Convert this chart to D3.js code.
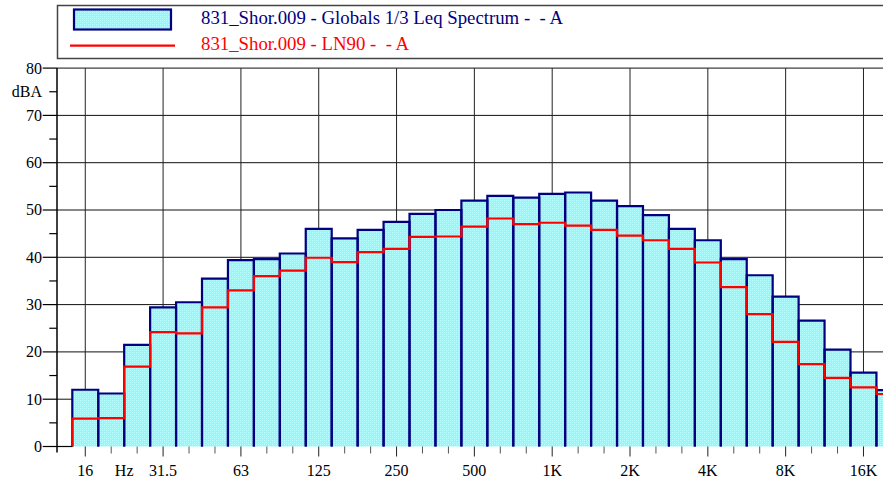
<!DOCTYPE html>
<html>
<head>
<meta charset="utf-8">
<script src="https://cdn.jsdelivr.net/npm/d3@7"></script>
<style>
  html, body { margin: 0; padding: 0; background: #fff; }
  svg { display: block; }
</style>
</head>
<body>
<svg id="chart" width="883" height="483"></svg>
<script>
// ---- data ----
const bands = ["16","20","25","31.5","40","50","63","80","100","125","160","200","250","315","400","500","630","800","1K","1.25K","1.6K","2K","2.5K","3.15K","4K","5K","6.3K","8K","10K","12.5K","16K","20K"];
const leqValues = [12.0,11.2,21.5,29.4,30.5,35.5,39.4,39.6,40.8,46.0,44.0,45.8,47.5,49.2,50.0,52.0,53.0,52.6,53.4,53.7,52.0,50.8,48.9,46.0,43.6,39.6,36.2,31.7,26.6,20.5,15.6,11.9];
const ln90Values = [5.9,6.0,16.9,24.2,23.9,29.4,33.0,36.0,37.2,39.9,39.0,41.1,41.8,44.3,44.4,46.5,48.2,47.0,47.3,46.7,45.8,44.6,43.6,41.8,38.9,33.7,28.0,22.1,17.4,14.5,12.5,11.1];
const xTickBands = ["16","31.5","63","125","250","500","1K","2K","4K","8K","16K"];
const yTicks = [0,10,20,30,40,50,60,70,80];
const yMinorTicks = [5,15,25,35,45,55,65,75];
const yUnit = "dBA";
const xUnit = "Hz";
const legendLabels = ["831_Shor.009 - Globals 1/3 Leq Spectrum -  - A", "831_Shor.009 - LN90 -  - A"];

// ---- layout ----
const W = 883, H = 483;
const plotLeft = 57, plotRight = 883;
const bandW = 25.94;
const x0 = 72.3;
const FONT = "'Liberation Serif'";

const svg = d3.select("#chart");
svg.append("rect").attr("width", W).attr("height", H).attr("fill", "#fff");

// pattern fill for bars
const defs = svg.append("defs");
const pat = defs.append("pattern").attr("id", "dots").attr("patternUnits", "userSpaceOnUse")
  .attr("width", 4).attr("height", 4);
pat.append("rect").attr("width", 4).attr("height", 4).attr("fill", "#80ffff");
pat.append("rect").attr("x", 0).attr("y", 0).attr("width", 1).attr("height", 1).attr("fill", "#c4ffff");
pat.append("rect").attr("x", 2).attr("y", 2).attr("width", 1).attr("height", 1).attr("fill", "#c4ffff");
pat.append("rect").attr("x", 2).attr("y", 0).attr("width", 1).attr("height", 1).attr("fill", "#a6ffff");
pat.append("rect").attr("x", 0).attr("y", 2).attr("width", 1).attr("height", 1).attr("fill", "#a6ffff");

const x = d3.scaleBand().domain(bands).range([x0, x0 + bands.length * bandW]).paddingInner(0).paddingOuter(0);
const y = d3.scaleLinear().domain([0, 80]).range([446.5, 68.1]);
const xc = b => x(b) + x.bandwidth() / 2;

const clip = defs.append("clipPath").attr("id", "plotclip");
clip.append("rect").attr("x", plotLeft).attr("y", 0).attr("width", plotRight - plotLeft).attr("height", H);

// ---- grid ----
const grid = svg.append("g");
grid.selectAll("line.h").data(yTicks.slice(1)).join("line")
  .attr("x1", plotLeft).attr("x2", plotRight)
  .attr("y1", d => y(d)).attr("y2", d => y(d))
  .attr("stroke", "#111").attr("stroke-width", 1);
grid.selectAll("line.v").data(xTickBands).join("line")
  .attr("x1", d => xc(d)).attr("x2", d => xc(d))
  .attr("y1", y(80)).attr("y2", y(0) + 10)
  .attr("stroke", "#222").attr("stroke-width", 1);

// ---- bars ----
const barG = svg.append("g").attr("clip-path", "url(#plotclip)");
const data = bands.map((b, i) => ({ band: b, leq: leqValues[i], ln90: ln90Values[i] }));
barG.selectAll("rect.bar").data(data).join("rect")
  .attr("x", d => x(d.band)).attr("width", x.bandwidth())
  .attr("y", d => y(d.leq)).attr("height", d => y(0) - y(d.leq))
  .attr("fill", "url(#dots)");
barG.selectAll("path.edge").data(data).join("path")
  .attr("d", d => `M${x(d.band)},${y(0)}V${y(d.leq)}H${x(d.band) + x.bandwidth()}V${y(0)}`)
  .attr("fill", "none").attr("stroke", "#000080").attr("stroke-width", 2.2).attr("stroke-linejoin", "miter");

// ---- LN90 step line ----
const pts = [[x(bands[0]), 0]].concat(data.map(d => [x(d.band), d.ln90]));
pts.push([x(bands[bands.length - 1]) + x.bandwidth(), ln90Values[ln90Values.length - 1]]);
const line = d3.line().x(p => p[0]).y(p => y(p[1])).curve(d3.curveStepAfter);
barG.append("path").attr("d", line(pts)).attr("fill", "none")
  .attr("stroke", "#ff0000").attr("stroke-width", 2.2);

// ---- axes ----
const ax = svg.append("g");
ax.append("line").attr("x1", plotLeft).attr("x2", plotLeft).attr("y1", y(80)).attr("y2", y(0) + 6)
  .attr("stroke", "#000").attr("stroke-width", 1.5);
ax.append("line").attr("x1", plotLeft).attr("x2", x0).attr("y1", y(0)).attr("y2", y(0))
  .attr("stroke", "#000").attr("stroke-width", 1.2);
ax.selectAll("line.ymaj").data(yTicks).join("line")
  .attr("x1", 42.7).attr("x2", plotLeft).attr("y1", d => y(d)).attr("y2", d => y(d))
  .attr("stroke", "#000").attr("stroke-width", 1.2);
ax.selectAll("line.ymin").data(yMinorTicks).join("line")
  .attr("x1", 49.3).attr("x2", plotLeft).attr("y1", d => y(d)).attr("y2", d => y(d))
  .attr("stroke", "#000").attr("stroke-width", 1.2);
ax.selectAll("text.ylab").data(yTicks).join("text")
  .attr("x", 42).attr("y", d => y(d)).attr("dy", "0.34em")
  .attr("text-anchor", "end").attr("font-size", 16).attr("font-family", FONT).attr("fill", "#000")
  .text(d => d);
ax.append("text").attr("x", 42).attr("y", y(75)).attr("dy", "0.34em")
  .attr("text-anchor", "end").attr("font-size", 16).attr("font-family", FONT).attr("fill", "#000").text(yUnit);

ax.selectAll("line.xmin").data(bands.filter(b => !xTickBands.includes(b))).join("line")
  .attr("x1", d => xc(d)).attr("x2", d => xc(d))
  .attr("y1", y(0)).attr("y2", y(0) + 7)
  .attr("stroke", "#555").attr("stroke-width", 1);
ax.selectAll("text.xlab").data(xTickBands).join("text")
  .attr("x", d => xc(d)).attr("y", 476)
  .attr("text-anchor", "middle").attr("font-size", 16).attr("font-family", FONT).attr("fill", "#000")
  .text(d => d);
ax.append("text").attr("x", x("25")).attr("y", 476)
  .attr("text-anchor", "middle").attr("font-size", 16).attr("font-family", FONT).attr("fill", "#000").text(xUnit);

// ---- legend ----
const lg = svg.append("g");
lg.append("rect").attr("x", 57.5).attr("y", 5.5).attr("width", 900).attr("height", 53)
  .attr("fill", "#fff").attr("stroke", "#444").attr("stroke-width", 1.5);
lg.append("rect").attr("x", 74).attr("y", 9.5).attr("width", 97).attr("height", 20)
  .attr("fill", "url(#dots)").attr("stroke", "#000080").attr("stroke-width", 2.2);
lg.append("line").attr("x1", 70).attr("x2", 175).attr("y1", 45.7).attr("y2", 45.7)
  .attr("stroke", "#ff0000").attr("stroke-width", 2.2);
lg.append("text").attr("x", 201).attr("y", 23.5).attr("font-size", 18.8).attr("font-family", FONT).attr("fill", "#000080")
  .style("white-space", "pre").text(legendLabels[0]);
lg.append("text").attr("x", 201).attr("y", 50).attr("font-size", 18.8).attr("font-family", FONT).attr("fill", "#ff0000")
  .style("white-space", "pre").text(legendLabels[1]);
</script>
</body>
</html>
